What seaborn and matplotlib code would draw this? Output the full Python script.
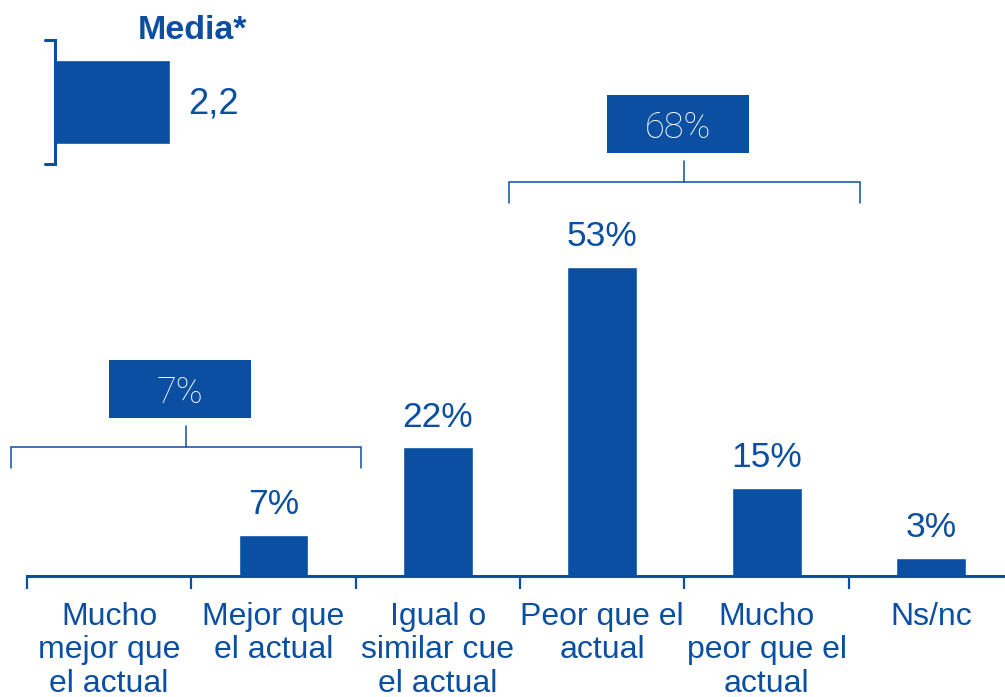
import matplotlib
matplotlib.use("Agg")
import matplotlib.pyplot as plt
import seaborn as sns
import pandas as pd
from matplotlib.patches import Rectangle

# ---- data ----
categories = ["Mucho\nmejor que\nel actual", "Mejor que\nel actual",
              "Igual o\nsimilar cue\nel actual", "Peor que el\nactual",
              "Mucho\npeor que el\nactual", "Ns/nc"]
values = [0, 7, 22, 53, 15, 3]
value_labels = ["", "7%", "22%", "53%", "15%", "3%"]
group_labels = ["7%", "68%"]
group_totals = [7, 68]
mean_label = "Media*"
mean_value = [2.2]
mean_text = "2,2"

BLUE = "#0B4FA2"

sns.set_theme(style="white")
plt.rcParams["font.family"] = ["Liberation Sans", "DejaVu Sans"]

fig = plt.figure(figsize=(10.05, 6.97), dpi=100)
W, H = 1005, 697

# main axes: left at x=27px, baseline at y=575px
ax = fig.add_axes([27 / W, (H - 575.5) / H, (W - 27) / W, 575.5 / H])
df = pd.DataFrame({"cat": categories, "val": values})
sns.barplot(data=df, x="cat", y="val", color=BLUE, saturation=1, width=0.425, ax=ax)

ax.set_xlim(-0.5, 5.45)
ax.set_ylim(0, 575.5 / 5.82)
ax.set_xlabel("")
ax.set_ylabel("")
ax.set_yticks([])
for s in ["top", "right", "left"]:
    ax.spines[s].set_visible(False)
ax.spines["bottom"].set_color(BLUE)
ax.spines["bottom"].set_linewidth(2.2)

ax.set_xticks(range(len(categories)))
ax.set_xticklabels(categories, fontsize=23, color=BLUE, linespacing=1.15)
ax.tick_params(axis="x", which="major", length=0, pad=19)
ax.set_xticks([i - 0.5 for i in range(len(categories))], minor=True)
ax.tick_params(axis="x", which="minor", length=9.5, width=1.6, color=BLUE, direction="out", bottom=True)

for i, (v, lab) in enumerate(zip(values, value_labels)):
    if lab:
        ax.annotate(lab, (i, v), xytext=(0, 15), textcoords="offset points",
                    ha="center", va="baseline", fontsize=25.5, color=BLUE)

# group brackets
bracket_centers = [0.47, 3.5]
bracket_y = [22.1, 67.6]
half_w = 1.065
drop = 3.6
for c, y, lab in zip(bracket_centers, bracket_y, group_labels):
    ax.plot([c - half_w, c - half_w, c + half_w, c + half_w], [y - drop, y, y, y - drop],
            color=BLUE, lw=1.1, clip_on=False, solid_joinstyle="miter")
    ax.plot([c, c], [y, y + 3.6], color=BLUE, lw=1.1, clip_on=False)
    bx = c - 0.04
    ax.add_patch(Rectangle((bx - 0.432, y + 5.0), 0.864, 9.9, facecolor=BLUE,
                           edgecolor="none", clip_on=False))
    ax.text(bx, y + 5.0 + 4.95, lab, ha="center", va="center_baseline", color="white",
            fontsize=26, family=["Roboto", "DejaVu Sans"], fontweight="light")

# inset mean bar
ax_in = fig.add_axes([55 / W, (H - 164) / H, 262 / W, 124 / H])
sns.barplot(x=mean_value, y=[mean_label], orient="h", color=BLUE, saturation=1,
            width=0.67, ax=ax_in)
ax_in.set_xlim(0, 5)
ax_in.set_ylim(0.5, -0.5)
ax_in.axis("off")
ax_in.plot([-0.04, 0, 0, -0.04], [1, 1, 0, 0], transform=ax_in.transAxes,
           color=BLUE, lw=2.2, clip_on=False, solid_joinstyle="miter")
ax_in.text(mean_value[0] + 0.35, 0.02, mean_text, ha="left", va="center",
           fontsize=26, color=BLUE)
fig.text(138 / W, 1 - 39 / H, mean_label, ha="left", va="baseline", fontsize=24.5,
         fontweight="bold", color=BLUE)

fig.savefig("out.png", dpi=100)
